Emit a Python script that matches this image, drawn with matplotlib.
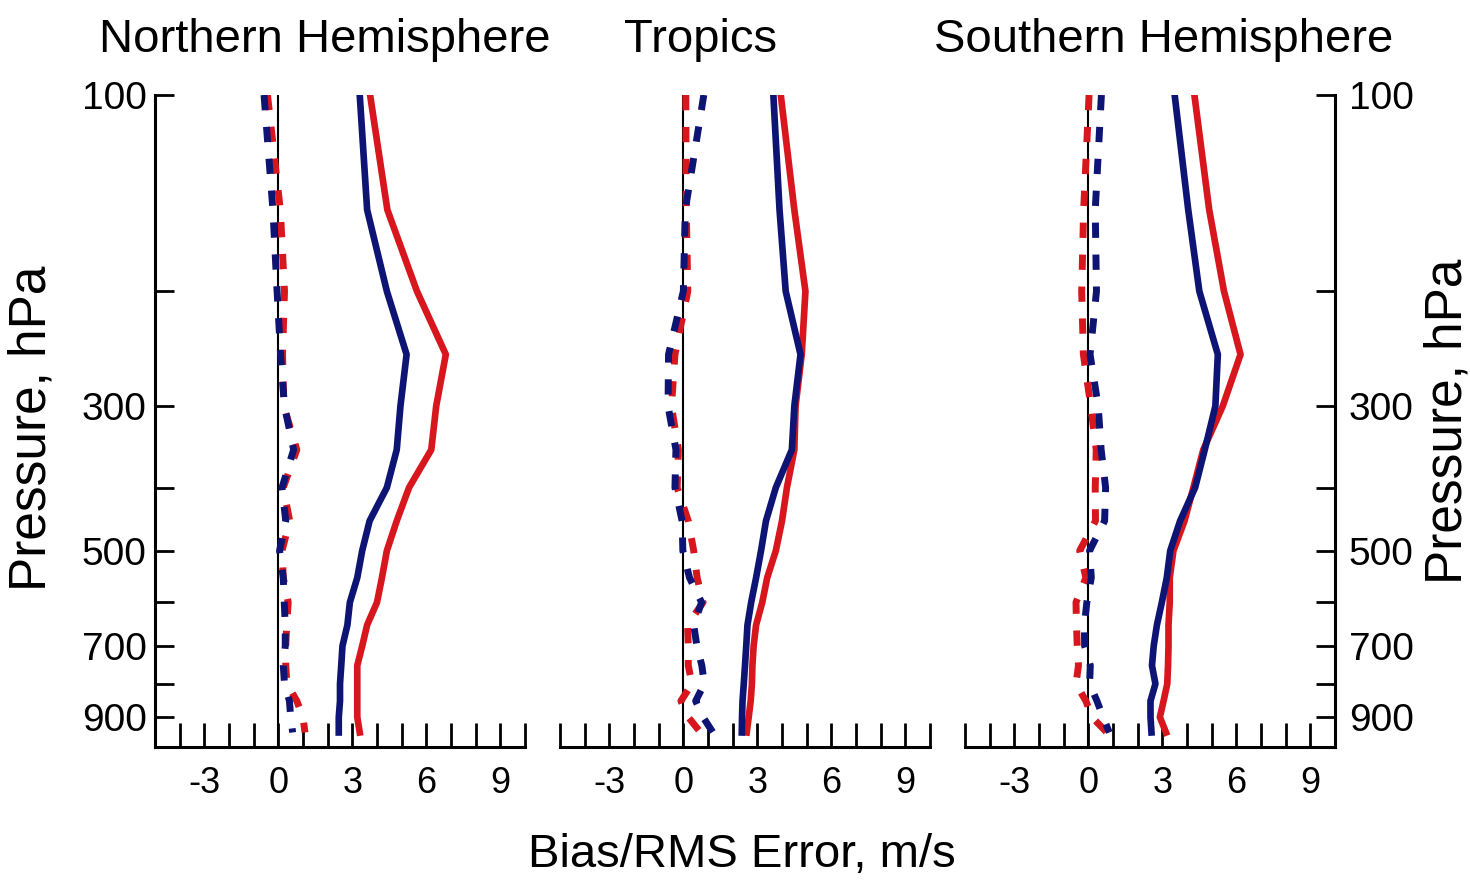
import numpy as np
import matplotlib
matplotlib.use('Agg')
import matplotlib.pyplot as plt
from matplotlib.ticker import FixedLocator, FixedFormatter, NullLocator

plt.rcParams['font.family'] = ['Liberation Sans', 'DejaVu Sans']

# Niveles de presion (hPa)
niveles = [100, 150, 200, 250, 300, 350, 400, 450, 500, 550,
           600, 650, 700, 750, 800, 850, 900, 950]

# Hemisferio norte
nh_rms_rojo = [3.72, 4.42, 5.62, 6.79, 6.4, 6.2, 5.3, 4.8, 4.4, 4.2,
               4.0, 3.6, 3.4, 3.2, 3.2, 3.2, 3.2, 3.3]
nh_rms_azul = [3.3, 3.6, 4.4, 5.2, 4.95, 4.8, 4.4, 3.7, 3.4, 3.2,
               2.9, 2.8, 2.6, 2.55, 2.5, 2.5, 2.45, 2.45]
nh_bias_rojo = [-0.44, 0.08, 0.25, 0.17, 0.22, 0.75, 0.2, 0.46, 0.15, 0.2,
                0.4, 0.34, 0.3, 0.3, 0.35, 0.75, 1.0, 1.08]
nh_bias_azul = [-0.58, -0.22, -0.05, 0.09, 0.25, 0.62, 0.15, 0.3, 0.05, 0.2,
                0.24, 0.28, 0.28, 0.2, 0.25, 0.45, 0.5, 0.58]

# Tropicos
tr_rms_rojo = [3.95, 4.5, 4.95, 4.8, 4.55, 4.5, 4.2, 4.0, 3.75, 3.4,
               3.2, 2.95, 2.85, 2.8, 2.78, 2.73, 2.65, 2.57]
tr_rms_azul = [3.65, 3.9, 4.15, 4.75, 4.5, 4.4, 3.75, 3.35, 3.15, 2.95,
               2.75, 2.6, 2.55, 2.5, 2.45, 2.4, 2.38, 2.37]
tr_bias_rojo = [0.1, 0.12, 0.18, -0.34, -0.48, -0.2, -0.25, 0.2, 0.42, 0.56,
                0.8, 0.17, 0.2, 0.2, 0.35, -0.1, 0.2, 0.7]
tr_bias_azul = [0.83, 0.08, 0.0, -0.6, -0.62, -0.3, -0.34, -0.05, -0.02, 0.25,
                0.74, 0.42, 0.55, 0.75, 0.85, 0.5, 0.8, 1.2]

# Hemisferio sur
sh_rms_rojo = [4.3, 4.9, 5.5, 6.17, 5.45, 4.66, 4.26, 3.9, 3.45, 3.3,
               3.3, 3.25, 3.25, 3.23, 3.2, 3.05, 2.9, 3.15]
sh_rms_azul = [3.5, 4.05, 4.5, 5.25, 5.15, 4.72, 4.33, 3.72, 3.32, 3.18,
               2.98, 2.78, 2.65, 2.58, 2.72, 2.52, 2.52, 2.56]
sh_bias_rojo = [0.03, -0.19, -0.27, -0.2, 0.1, 0.32, 0.28, 0.29, -0.35, -0.1,
                -0.5, -0.48, -0.45, -0.4, -0.5, -0.1, 0.15, 0.75]
sh_bias_azul = [0.53, 0.28, 0.33, 0.07, 0.4, 0.52, 0.7, 0.66, 0.05, 0.12,
                -0.06, -0.16, -0.15, 0.08, 0.05, 0.35, 0.6, 0.85]

titulos = ['Northern Hemisphere', 'Tropics', 'Southern Hemisphere']
titulo_x = [325, 701, 1164]
ticks_y = [100, 200, 300, 400, 500, 600, 700, 800, 900]
etiquetas_y = ['100', '', '300', '', '500', '', '700', '', '900']
ticks_x = list(range(-5, 11))
etiquetas_x = [str(v) if v % 3 == 0 else '' for v in ticks_x]

rojo = '#d7161d'
azul = '#0e1473'

datos = [(nh_rms_rojo, nh_rms_azul, nh_bias_rojo, nh_bias_azul),
         (tr_rms_rojo, tr_rms_azul, tr_bias_rojo, tr_bias_azul),
         (sh_rms_rojo, sh_rms_azul, sh_bias_rojo, sh_bias_azul)]

fig = plt.figure(figsize=(14.7, 8.8), dpi=100)
izq = [155, 560, 965]

for k in range(3):
    ax = fig.add_axes([izq[k] / 1470, 133 / 880, 370 / 1470, 652 / 880])
    rms_r, rms_a, bias_r, bias_a = datos[k]

    # linea de cero, sesgo (discontinua) y RMS (continua)
    ax.axvline(0, color='k', lw=1.5, zorder=1)
    ax.plot(bias_r, niveles, color=rojo, lw=5, linestyle=(0, (2.2, 2.4)), zorder=2)
    ax.plot(bias_a, niveles, color=azul, lw=5, linestyle=(0, (2.2, 2.4)), zorder=3)
    ax.plot(rms_r, niveles, color=rojo, lw=4.8, zorder=2)
    ax.plot(rms_a, niveles, color=azul, lw=4.8, zorder=3)

    ax.set_yscale('log')
    ax.set_ylim(1000, 100)
    ax.set_xlim(-5, 10)

    ax.xaxis.set_major_locator(FixedLocator(ticks_x))
    ax.xaxis.set_major_formatter(FixedFormatter(etiquetas_x))
    ax.yaxis.set_major_locator(FixedLocator(ticks_y))
    ax.yaxis.set_major_formatter(FixedFormatter(etiquetas_y))
    ax.yaxis.set_minor_locator(NullLocator())
    ax.xaxis.set_minor_locator(NullLocator())

    ax.tick_params(axis='x', direction='in', length=17, width=2, labelsize=26, pad=14)
    for s in ['top', 'left', 'right']:
        ax.spines[s].set_visible(False)
    ax.spines['bottom'].set_linewidth(2.2)

    if k == 0:
        ax.spines['left'].set_visible(True)
        ax.spines['left'].set_linewidth(2.2)
        ax.tick_params(axis='y', direction='in', length=14, width=2, labelsize=28, pad=6)
    elif k == 2:
        ax.spines['right'].set_visible(True)
        ax.spines['right'].set_linewidth(2.2)
        ax.yaxis.tick_right()
        ax.tick_params(axis='y', direction='in', length=14, width=2, labelsize=28, pad=10)
    else:
        ax.tick_params(axis='y', left=False, labelleft=False)

    fig.text(titulo_x[k] / 1470, 1 - 52 / 880, titulos[k], fontsize=34,
             ha='center', va='baseline')

fig.text(32 / 1470, 1 - 428 / 880, 'Pressure, hPa', fontsize=37, rotation=90,
         ha='center', va='center')
fig.text(1448 / 1470, 1 - 421 / 880, 'Pressure, hPa', fontsize=37, rotation=90,
         ha='center', va='center')
fig.text(742 / 1470, 13 / 880, 'Bias/RMS Error, m/s', fontsize=34,
         ha='center', va='baseline')

fig.savefig('out.png', dpi=100)
